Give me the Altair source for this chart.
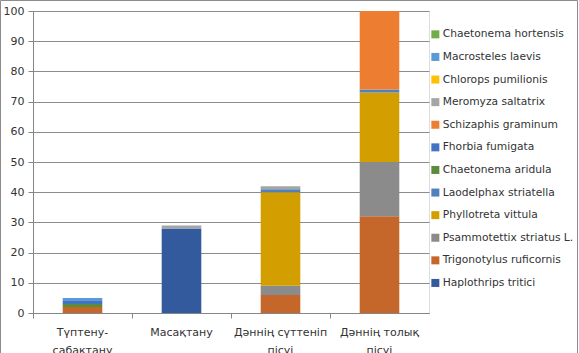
import altair as alt
import pandas as pd

# Categories (x axis), "|" marks a line break in the label
stages = ["Түптену-|сабақтану", "Масақтану", "Дәннің сүттеніп|пісуі", "Дәннің толық|пісуі"]

# Species in stacking order (bottom -> top)
species = [
    "Haplothrips tritici",
    "Trigonotylus ruficornis",
    "Psammotettix striatus L.",
    "Phyllotreta vittula",
    "Laodelphax striatella",
    "Chaetonema aridula",
    "Fhorbia fumigata",
    "Schizaphis graminum",
    "Meromyza saltatrix",
    "Chlorops pumilionis",
    "Macrosteles laevis",
    "Chaetonema hortensis",
]
colors = [
    "#345A9E", "#C5662A", "#8B8B8B", "#D39F00", "#4F81BD", "#5B8C3A",
    "#4472C4", "#ED7D31", "#A5A5A5", "#FFC000", "#5B9BD5", "#70AD47",
]

# Values per species, one value per stage
haplothrips = [0, 28, 0, 0]
trigonotylus = [2, 0, 6, 32]
psammotettix = [0, 0, 3, 18]
phyllotreta = [0, 0, 31, 23]
laodelphax = [0, 0, 1, 1]
chaet_aridula = [1, 0, 0, 0]
fhorbia = [1, 0, 0, 0]
schizaphis = [0, 0, 0, 26]
meromyza = [0, 1, 1, 0]
chlorops = [0, 0, 0, 0]
macrosteles = [1, 0, 0, 0]
chaet_hortensis = [0, 0, 0, 0]

series = [haplothrips, trigonotylus, psammotettix, phyllotreta, laodelphax,
          chaet_aridula, fhorbia, schizaphis, meromyza, chlorops,
          macrosteles, chaet_hortensis]

rows = []
for i, (sp, vals) in enumerate(zip(species, series)):
    for st, v in zip(stages, vals):
        rows.append({"stage": st, "species": sp, "value": v, "order": i})
df = pd.DataFrame(rows)

legend_order = list(reversed(species))
legend_colors = list(reversed(colors))

FONT = "DejaVu Sans"
W, H = 396, 302

bars = alt.Chart(df).mark_bar(width={"band": 0.4}, strokeWidth=0).encode(
    x=alt.X("stage:N", sort=stages, title=None,
            scale=alt.Scale(paddingInner=0, paddingOuter=0),
            axis=alt.Axis(labelAngle=0, bandPosition=0,
                          labelExpr="split(datum.label, '|')",
                          tickSize=5, tickColor="#868686", domainColor="#868686",
                          labelPadding=8, labelBaseline="top", labelLineHeight=18,
                          labelFontSize=11, labelFont=FONT, labelColor="#333333",
                          grid=False)),
    y=alt.Y("value:Q", stack="zero", title=None,
            scale=alt.Scale(domain=[0, 100], nice=False),
            axis=alt.Axis(values=list(range(0, 101, 10)), tickSize=5,
                          tickColor="#868686", domainColor="#868686",
                          gridColor="#8C8C8C", gridWidth=1, labelPadding=4,
                          labelFontSize=11, labelFont=FONT, labelColor="#333333")),
    color=alt.Color("species:N", title=None,
                    scale=alt.Scale(domain=legend_order, range=legend_colors),
                    legend=alt.Legend(orient="none", legendX=397, legendY=18,
                                      symbolType="square", symbolSize=64,
                                      symbolStrokeWidth=0, labelFontSize=10.7,
                                      labelFont=FONT, labelColor="#333333",
                                      rowPadding=10.6, labelOffset=2)),
    order=alt.Order("order:Q", sort="ascending"),
)

frame = alt.Chart(pd.DataFrame({"a": [0]})).mark_rect(
    fill=None, stroke="#8C8C8C", strokeWidth=1
).encode(x=alt.value(-32.5), x2=alt.value(544.5), y=alt.value(-10.5), y2=alt.value(345))

chart = alt.layer(frame, bars).properties(
    width=W, height=H,
    autosize=alt.AutoSizeParams(type="none"),
    padding={"left": 33, "top": 11, "right": 579 - 33 - W, "bottom": 353 - 11 - H},
).configure_view(stroke=None).configure(background="white")

chart.save("out.html", embed_options={"renderer": "svg", "actions": False})
